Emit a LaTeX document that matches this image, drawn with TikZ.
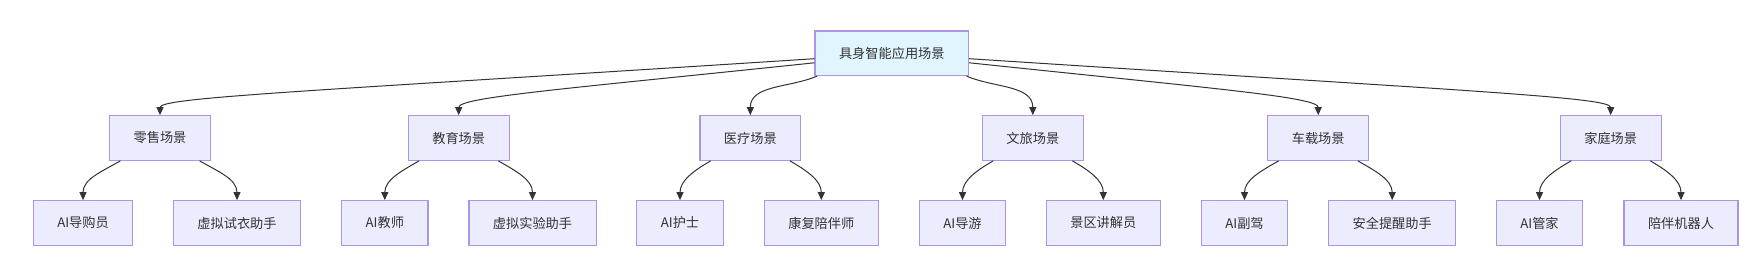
\documentclass[tikz,border=0pt]{standalone}
\usepackage{fontspec}
\usepackage{tikz}
\usetikzlibrary{arrows.meta, positioning}
\newfontfamily\cjk{Noto Sans CJK SC}
\definecolor{cFill}{HTML}{ECECFF}
\definecolor{cLine}{HTML}{AE94E6}
\definecolor{cRoot}{HTML}{E1F5FE}
\definecolor{cInk}{HTML}{333333}
\tikzset{
	blk/.style   ={rectangle, draw=cLine, line width=1.2pt, fill=cFill, text=cInk, inner xsep=24pt, inner ysep=0pt, minimum height=44.5pt, font=\cjk\fontsize{13.2pt}{16pt}\selectfont},
	topblk/.style={blk, fill=cRoot},
	sig/.style   ={-{Triangle[length=8pt, width=7pt]}, draw=cInk, line width=1pt},
}
\begin{document}
\begin{tikzpicture}[x=1pt, y=1pt]
	\useasboundingbox (0,0) rectangle (1760,256);
	\node[topblk] (root) at (891.8,202.7) {具身智能应用场景};
	% scene row
	\foreach \n/\x/\t in {retail/160/零售场景, edu/458.7/教育场景, med/750.3/医疗场景, tour/1032.8/文旅场景, car/1318.2/车载场景, home/1610.7/家庭场景}
		\node[blk] (\n) at (\x,118) {\t};
	% role row
	\foreach \n/\x/\t in {retail1/83/AI导购员, retail2/237/虚拟试衣助手, edu1/384.8/AI教师, edu2/532.5/虚拟实验助手, med1/680/AI护士, med2/821.3/康复陪伴师, tour1/962.5/AI导游, tour2/1103.3/景区讲解员, car1/1244.5/AI副驾, car2/1392.2/安全提醒助手, home1/1539.5/AI管家, home2/1681/陪伴机器人}
		\node[blk] (\n) at (\x,33) {\t};
	\draw[sig] (root.184) to[out=183.7, in=90, out distance=500pt, in distance=18pt] (retail.north);
	\draw[sig] (root.187) to[out=186, in=90, out distance=250pt, in distance=18pt] (edu.north);
	\draw[sig] (root.197) to[out=203, in=90] (med.north);
	\draw[sig] (root.343) to[out=-23, in=90] (tour.north);
	\draw[sig] (root.353) to[out=-6, in=90, out distance=250pt, in distance=18pt] (car.north);
	\draw[sig] (root.356) to[out=-3.7, in=90, out distance=500pt, in distance=18pt] (home.north);
	\foreach \m in {retail, edu, med, tour, car, home} {
		\draw[sig] (\m.210) to[out=210, in=90] (\m1.north);
		\draw[sig] (\m.330) to[out=-30, in=90] (\m2.north);
	}
\end{tikzpicture}
\end{document}
